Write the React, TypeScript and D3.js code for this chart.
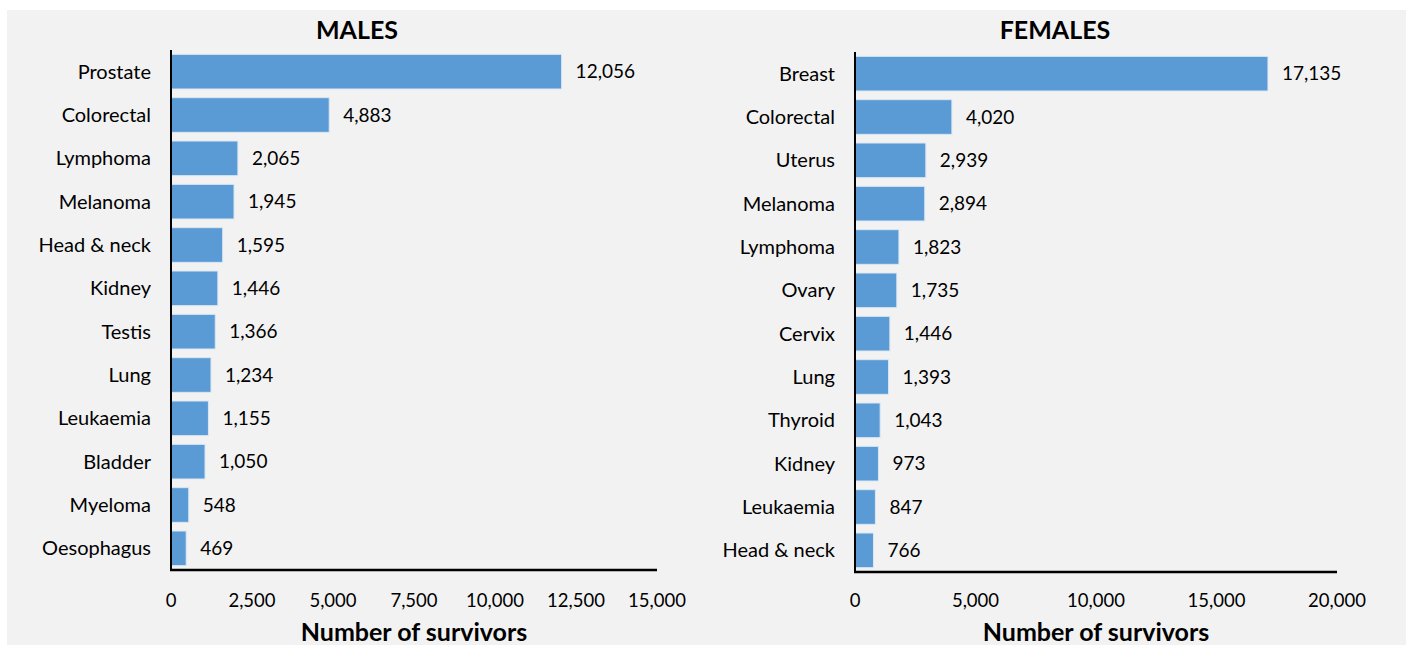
import React from "react";
import * as d3 from "d3";

const maleCategories = ["Prostate","Colorectal","Lymphoma","Melanoma","Head & neck","Kidney","Testis","Lung","Leukaemia","Bladder","Myeloma","Oesophagus"];
const maleValues = [12056,4883,2065,1945,1595,1446,1366,1234,1155,1050,548,469];
const maleTicks = [0,2500,5000,7500,10000,12500,15000];

const femaleCategories = ["Breast","Colorectal","Uterus","Melanoma","Lymphoma","Ovary","Cervix","Lung","Thyroid","Kidney","Leukaemia","Head & neck"];
const femaleValues = [17135,4020,2939,2894,1823,1735,1446,1393,1043,973,847,766];
const femaleTicks = [0,5000,10000,15000,20000];

const FONT = "Lato, 'Open Sans', sans-serif";
const fmt = d3.format(",");

function Panel({ title, cats, vals, ticks, x0, x1, y0, y1, titleX }: any) {
  const x = d3.scaleLinear().domain([0, ticks[ticks.length - 1]]).range([x0, x1]);
  const y = d3.scaleBand().domain(cats).range([y0, y1]).paddingInner(0.2).paddingOuter(0.1);
  return (
    <g>
      <text x={titleX} y={39} textAnchor="middle" fontFamily={FONT} fontWeight="bold" fontSize={25} fill="#000">{title}</text>
      {cats.map((c: string, i: number) => (
        <g key={c}>
          <rect x={x(0)} y={y(c)} width={x(vals[i]) - x(0)} height={y.bandwidth()} fill="#5b9bd5" stroke="#dbe7f4" strokeWidth={1} />
          <text x={x(vals[i]) + 14} y={(y(c) as number) + y.bandwidth() / 2} dy="0.35em" fontFamily={FONT} fontSize={19} fill="#000">{fmt(vals[i])}</text>
          <text x={x0 - 20} y={(y(c) as number) + y.bandwidth() / 2} dy="0.35em" textAnchor="end" fontFamily={FONT} fontSize={20} fill="#000">{c}</text>
        </g>
      ))}
      <line x1={x0} x2={x0} y1={y0} y2={y1} stroke="#000" strokeWidth={2} />
      <line x1={x0 - 1} x2={x1} y1={y1} y2={y1} stroke="#000" strokeWidth={2.5} />
      {ticks.map((t: number) => (
        <text key={t} x={x(t)} y={601} dy="0.35em" textAnchor="middle" fontFamily={FONT} fontSize={18.5} fill="#000">{fmt(t)}</text>
      ))}
      <text x={(x0 + x1) / 2} y={632} dy="0.35em" textAnchor="middle" fontFamily={FONT} fontWeight="bold" fontSize={25} fill="#000">Number of survivors</text>
    </g>
  );
}

export default function App() {
  return (
    <svg width={1406} height={645} style={{ position: "absolute", left: 0, top: 0 }}>
      <rect x={0} y={0} width={1406} height={645} fill="#ffffff" />
      <rect x={7} y={10} width={1399} height={635} fill="#f2f2f2" />
      <Panel title="MALES" cats={maleCategories} vals={maleValues} ticks={maleTicks} x0={171} x1={657} y0={50} y1={570} titleX={357} />
      <Panel title="FEMALES" cats={femaleCategories} vals={femaleValues} ticks={femaleTicks} x0={855} x1={1337} y0={52} y1={572} titleX={1055} />
    </svg>
  );
}
